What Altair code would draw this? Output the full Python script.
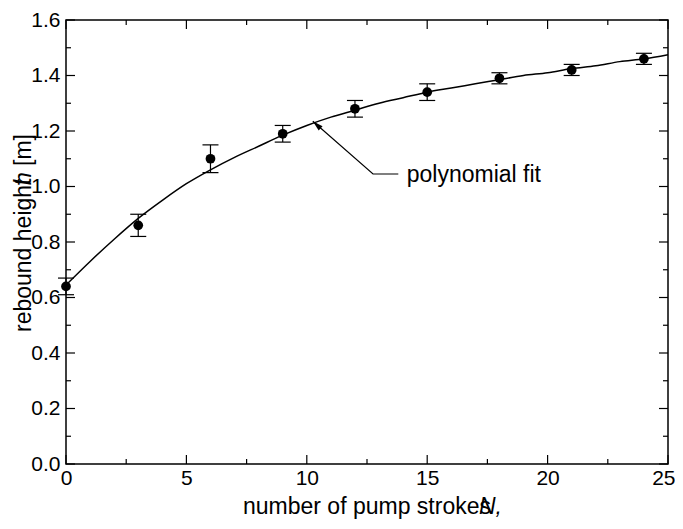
import altair as alt
import pandas as pd

# measured data
strokes = [0, 3, 6, 9, 12, 15, 18, 21, 24]
rebound = [0.64, 0.86, 1.10, 1.19, 1.28, 1.34, 1.39, 1.42, 1.46]
err = [0.03, 0.04, 0.05, 0.03, 0.03, 0.03, 0.02, 0.02, 0.02]

# polynomial fit curve
fit_x = list(range(26))
fit_y = [0.645, 0.73, 0.81, 0.885, 0.95, 1.01, 1.06, 1.105, 1.145, 1.185,
         1.22, 1.25, 1.275, 1.30, 1.32, 1.34, 1.355, 1.37, 1.385, 1.40,
         1.41, 1.425, 1.435, 1.45, 1.46, 1.475]

x_major = [0, 5, 10, 15, 20, 25]
x_minor = [2.5, 7.5, 12.5, 17.5, 22.5]
y_major = [0.0, 0.2, 0.4, 0.6, 0.8, 1.0, 1.2, 1.4, 1.6]
y_minor = [0.1, 0.3, 0.5, 0.7, 0.9, 1.1, 1.3, 1.5]

# annotation: arrow path (tail -> tip) and label
arrow_x = [13.8, 12.75, 10.25]
arrow_y = [1.045, 1.045, 1.235]
label_text = ["polynomial fit"]
label_x = [14.15]
label_y = [1.04]

W, H = 602, 444
FONT = "Liberation Sans"
TICK_FS = 21
TITLE_FS = 23

pts = pd.DataFrame({"x": strokes, "y": rebound,
                    "lo": [v - e for v, e in zip(rebound, err)],
                    "hi": [v + e for v, e in zip(rebound, err)]})
fit = pd.DataFrame({"x": fit_x, "y": fit_y})
arrow = pd.DataFrame({"x": arrow_x, "y": arrow_y, "o": list(range(len(arrow_x)))})
lab = pd.DataFrame({"x": label_x, "y": label_y, "t": label_text})
tip = pd.DataFrame({"x": [arrow_x[-1]], "y": [arrow_y[-1]]})

xscale = alt.Scale(domain=[0, 25], nice=False, zero=False)
yscale = alt.Scale(domain=[0, 1.6], nice=False, zero=False)

last_x = x_major[-1]
X = alt.X("x:Q", scale=xscale,
          axis=alt.Axis(values=x_major, format="d", ticks=False, domain=False,
                        grid=False, title=None, labelFont=FONT,
                        labelFontSize=TICK_FS, labelColor="black",
                        labelPadding=3, labelFlush=False,
                        labelAlign={"condition": {"test": f"datum.value == {last_x}",
                                                  "value": "right"},
                                    "value": "center"},
                        labelOffset={"condition": {"test": f"datum.value == {last_x}",
                                                   "value": 7},
                                     "value": 0}))
Y = alt.Y("y:Q", scale=yscale,
          axis=alt.Axis(values=y_major, format=".1f", ticks=False, domain=False,
                        grid=False, title=None, labelFont=FONT,
                        labelFontSize=TICK_FS, labelColor="black",
                        labelPadding=6, labelFlush=False))

fit_line = alt.Chart(fit).mark_line(color="black", strokeWidth=1.5,
                                    interpolate="monotone").encode(x=X, y=Y)

bars = alt.Chart(pts).mark_rule(color="black", strokeWidth=1.2).encode(
    x="x:Q", y="lo:Q", y2="hi:Q")
cap_lo = alt.Chart(pts).mark_rule(color="black", strokeWidth=1.2,
                                  xOffset=-8, x2Offset=8).encode(
    x="x:Q", x2="x:Q", y="lo:Q")
cap_hi = alt.Chart(pts).mark_rule(color="black", strokeWidth=1.2,
                                  xOffset=-8, x2Offset=8).encode(
    x="x:Q", x2="x:Q", y="hi:Q")
dots = alt.Chart(pts).mark_circle(color="black", opacity=1, size=95).encode(
    x="x:Q", y="y:Q")

# inward ticks on all four sides
def xticks(vals, length):
    d = pd.DataFrame({"x": vals})
    b = alt.Chart(d).mark_rule(color="black", strokeWidth=1.2).encode(
        x="x:Q", y=alt.value(H), y2=alt.value(H - length))
    t = alt.Chart(d).mark_rule(color="black", strokeWidth=1.2).encode(
        x="x:Q", y=alt.value(0), y2=alt.value(length))
    return b + t

def yticks(vals, length):
    d = pd.DataFrame({"y": vals})
    l = alt.Chart(d).mark_rule(color="black", strokeWidth=1.2).encode(
        y="y:Q", x=alt.value(0), x2=alt.value(length))
    r = alt.Chart(d).mark_rule(color="black", strokeWidth=1.2).encode(
        y="y:Q", x=alt.value(W), x2=alt.value(W - length))
    return l + r

ticks = xticks(x_major, 9) + xticks(x_minor, 5) + yticks(y_major, 9) + yticks(y_minor, 5)

arrow_line = alt.Chart(arrow).mark_line(color="black", strokeWidth=1.2).encode(
    x="x:Q", y="y:Q", order="o:Q")
arrow_head = alt.Chart(tip).mark_point(
    shape="M0,0L0.55,2L-0.55,2Z", filled=True, color="black", opacity=1,
    size=110, angle=312).encode(x="x:Q", y="y:Q")
label = alt.Chart(lab).mark_text(font=FONT, fontSize=TITLE_FS, align="left",
                                 baseline="middle", color="black").encode(
    x="x:Q", y="y:Q", text="t:N")

# axis titles (as drawn in the reference, with the overlapping symbol)
one = pd.DataFrame({"a": [0]})
def txt(s, x, y, angle=0, italic=False, align="left"):
    return alt.Chart(one).mark_text(
        text=s, font=FONT, fontSize=TITLE_FS, angle=angle, align=align,
        baseline="middle", color="black",
        fontStyle="italic" if italic else "normal").encode(
        x=alt.value(x), y=alt.value(y))

xt1 = txt("number of pump strokes", 177, 487)
xt2 = txt("N,", 413, 487, italic=True)
yt1 = txt("rebound height", -42, 312, angle=270)
yt2 = txt("h", -42, 165, angle=270, italic=True)
yt3 = txt(" [m]", -42, 146, angle=270)

chart = alt.layer(
    ticks, fit_line, bars, cap_lo, cap_hi, dots, arrow_line, arrow_head, label,
    xt1, xt2, yt1, yt2, yt3
).properties(
    width=W, height=H,
    autosize=alt.AutoSizeParams(type="none"),
    padding={"left": 58, "top": 12, "right": 7, "bottom": 56},
).configure_view(stroke="black", strokeWidth=1.5)

chart.save("out.html", embed_options={"renderer": "svg", "actions": False})
